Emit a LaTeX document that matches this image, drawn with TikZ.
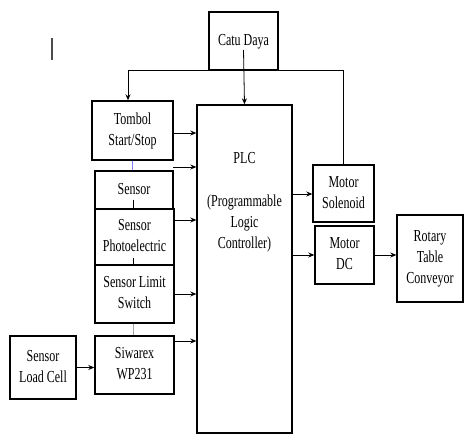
\documentclass[tikz,border=0pt]{standalone}
\usepackage{fontspec}
\setmainfont{Liberation Serif}
\usetikzlibrary{arrows.meta}
\newcommand\tx[1]{\scalebox{1}[1.4]{\fontsize{12}{15}\selectfont\begin{tabular}{@{}c@{}}#1\end{tabular}}}
\tikzset{
  blk/.style={draw, line width=1.4pt, rectangle, inner sep=0pt, align=center},
  conn/.style={line width=0.8pt},
  arr/.style={conn, -{Stealth[length=6pt,width=5pt]}},
  tick/.style={line width=0.6pt}
}
\begin{document}
\begin{tikzpicture}[x=1pt,y=-1pt]
\useasboundingbox (0,0) rectangle (465,435);
% nodes
\node[blk, minimum width=69pt, minimum height=58pt] (catu) at (243.5,41) {\tx{Catu Daya}};
\node[blk, minimum width=81pt, minimum height=59pt] (tombol) at (132.5,130.5) {\tx{Tombol\\Start/Stop}};
\node[blk, minimum width=95pt, minimum height=328pt] (plc) at (244.5,269) {};
\node (plctext) at (244.5,202) {\tx{PLC\\[1pt]\\(Programmable\\Logic\\Controller)}};
\node[blk, minimum width=78pt, minimum height=38pt] (sensor) at (134,190) {\tx{Sensor}};
\node[blk, minimum width=79pt, minimum height=56pt] (photo) at (134.5,237) {\tx{Sensor\\Photoelectric}};
\node[blk, minimum width=79pt, minimum height=58pt] (limit) at (134.5,294) {\tx{Sensor Limit\\Switch}};
\node[blk, minimum width=79pt, minimum height=58pt] (siwarex) at (134.5,365) {\tx{Siwarex\\WP231}};
\node[blk, minimum width=66pt, minimum height=63pt] (load) at (43,367.5) {\tx{Sensor\\Load Cell}};
\node[blk, minimum width=61pt, minimum height=57pt] (sol) at (343.5,193.5) {\tx{Motor\\Solenoid}};
\node[blk, minimum width=59pt, minimum height=58pt] (dc) at (344.5,255) {\tx{Motor\\DC}};
\node[blk, minimum width=66pt, minimum height=87pt] (rot) at (430,258.5) {\tx{Rotary\\Table\\Conveyor}};
\coordinate (s0) at (173,167);
% cursor mark
\draw[line width=1.5pt, black!70] (52,38) -- (52,60);
% power lines
\draw[arr] (catu.south) -| ([xshift=-4.5pt]tombol.north);
\draw[conn] (catu.south) -| (sol.north);
\draw[arr] ([yshift=-9pt]catu.center) -- (plc.north);
% inputs to PLC
\draw[arr] (tombol.east |- 0,133) -- (plc.west |- 0,133);
\draw[arr] (s0) -- (s0 -| plc.west);
\draw[arr] (photo.east |- 0,220) -- (plc.west |- 0,220);
\draw[arr] (limit.east |- 0,294) -- (plc.west |- 0,294);
\draw[arr] (siwarex.east |- 0,341) -- (plc.west |- 0,341);
\draw[arr] (load.east) -- (siwarex.west |- load.east);
% small links between stacked boxes
\draw[tick, blue!50] (tombol.south -| 132,0) -- (sensor.north -| 132,0);
\draw[tick] (133,200) -- (sensor.south -| 133,0);
\draw[tick] (133,258) -- (photo.south -| 133,0);
\draw[tick, black!35] (limit.south -| 133,0) -- (siwarex.north -| 133,0);
% outputs
\draw[arr] (plc.east |- 0,194) -- (sol.west |- 0,194);
\draw[arr] (plc.east |- 0,255) -- (dc.west |- 0,255);
\draw[arr] (dc.east) -- (rot.west |- dc.east);
\end{tikzpicture}
\end{document}
